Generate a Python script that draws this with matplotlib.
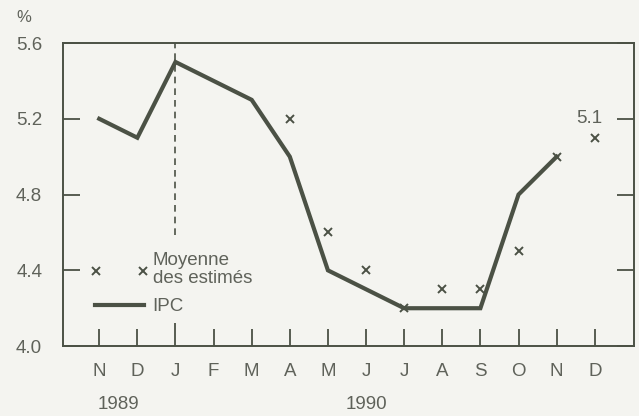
import numpy as np
import matplotlib
matplotlib.use("Agg")
from matplotlib import pyplot as plt
from matplotlib.lines import Line2D
from matplotlib.legend_handler import HandlerLine2D
from matplotlib.transforms import blended_transform_factory

# month labels, Nov 1989 .. Dec 1990
months = ["N", "D", "J", "F", "M", "A", "M", "J", "J", "A", "S", "O", "N", "D"]
ipc = [5.2, 5.1, 5.5, 5.4, 5.3, 5.0, 4.4, 4.3, 4.2, 4.2, 4.2, 4.8, 5.0]
estimate_months = [5, 6, 7, 8, 9, 10, 11, 12, 13]
estimates = [5.2, 4.6, 4.4, 4.2, 4.3, 4.3, 4.5, 5.0, 5.1]
yticks = [4.0, 4.4, 4.8, 5.2, 5.6]

bg = "#f4f4f0"
ink = "#4b5145"
txt = "#5f625a"
fs = 13.5

plt.rcParams["font.family"] = ["Liberation Sans", "DejaVu Sans"]


class LowMarker(HandlerLine2D):
    # puts the legend marker level with the second line of the label
    def create_artists(self, legend, orig_handle, xdescent, ydescent,
                       width, height, fontsize, trans):
        return super().create_artists(legend, orig_handle, xdescent,
                                       ydescent + 2, width, height,
                                       fontsize, trans)


fig = plt.figure(figsize=(6.39, 4.16), dpi=100, facecolor=bg)
ax = fig.add_axes([0.0986, 0.168, 0.893, 0.7286], facecolor=bg)

x = np.arange(len(ipc))
ax.plot(x, ipc, color=ink, lw=3, solid_joinstyle="miter", label="IPC")
ax.plot(estimate_months, estimates, ls="none", marker="x", ms=6, mew=1.4,
        color=ink, label="Moyenne\ndes estimés")
ax.axvline(2, ymin=0.366, ymax=1, color=ink, lw=1.2, dashes=(4, 3))

ax.text(12.85, 5.2, "5.1", ha="center", va="center", fontsize=fs, color=txt)

ax.set_xlim(-0.95, 14.02)
ax.set_ylim(4.0, 5.6)
ax.set_xticks(np.arange(len(months)))
ax.set_xticklabels(months)
ax.set_yticks(yticks)
ax.set_yticklabels(["%.1f" % v for v in yticks])
ax.tick_params(axis="x", direction="in", length=12, width=1.3, color=ink,
               labelsize=fs, labelcolor=txt, pad=12)
ax.tick_params(axis="y", direction="in", length=12.5, width=1.3, color=ink,
               labelsize=fs, labelcolor=txt, pad=15, right=True)
ax.xaxis.get_major_ticks()[2].tick1line.set_markersize(16.5)

for s in ax.spines.values():
    s.set_color(ink)
    s.set_linewidth(1.4)

trans = blended_transform_factory(ax.transData, fig.transFigure)
ax.text(-0.05, 0.008, "1989", transform=trans, ha="left", va="bottom",
        fontsize=fs, color=txt)
ax.text(7, 0.008, "1990", transform=trans, ha="center", va="bottom",
        fontsize=fs, color=txt)
fig.text(0.038, 0.957, "%", ha="center", va="center", fontsize=12, color=txt)

handles = [Line2D([], [], ls="none", marker="x", ms=6, mew=1.4, color=ink),
           Line2D([], [], color=ink, lw=3)]
leg = ax.legend(handles, ["Moyenne\ndes estimés", "IPC"], loc="lower left",
                bbox_to_anchor=(0.047, 0.102), frameon=False, numpoints=2,
                handlelength=3.2, handletextpad=0.15, labelspacing=0.6,
                borderpad=0, borderaxespad=0, fontsize=fs,
                handler_map={handles[0]: LowMarker(numpoints=2,
                                                   marker_pad=0.35)})
for t in leg.get_texts():
    t.set_color(txt)
    t.set_linespacing(1.05)

fig.savefig("out.png", dpi=100, facecolor=bg)
